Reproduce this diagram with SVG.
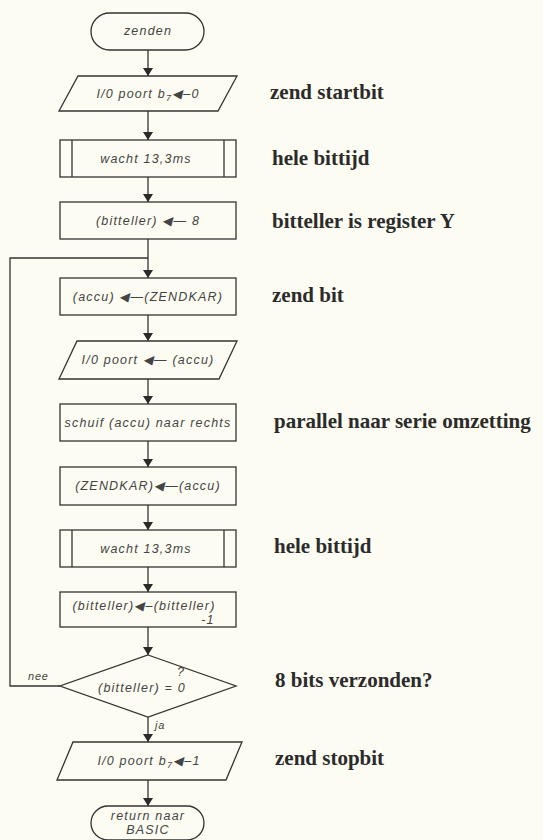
<svg xmlns="http://www.w3.org/2000/svg" width="543" height="840" viewBox="0 0 543 840">
<defs>
<marker id="ah" markerWidth="8" markerHeight="10" refX="8" refY="5" orient="auto" markerUnits="userSpaceOnUse">
<path d="M0,0 L8,5 L0,10 z" fill="#2a2a2a"/>
</marker>
<style>
.bg{fill:#fcfcf2}
.sh{fill:none;stroke:#333;stroke-width:1.3}
.ln{fill:none;stroke:#333;stroke-width:1.3}
.t{font-family:"Liberation Sans",Arial,sans-serif;font-style:italic;font-size:12.5px;letter-spacing:1.2px;fill:#444;text-anchor:middle}
.s{font-family:"Liberation Sans",Arial,sans-serif;font-style:italic;font-size:11px;letter-spacing:0.8px;fill:#444}
.r{font-family:"Liberation Serif","Times New Roman",serif;font-weight:bold;font-size:21px;fill:#2b2b2b}
</style>
</defs>
<rect class="bg" x="0" y="0" width="543" height="840"/>

<g id="connectors">
<line class="ln" x1="148" y1="50" x2="148" y2="76" marker-end="url(#ah)"/>
<line class="ln" x1="148" y1="111" x2="148" y2="140" marker-end="url(#ah)"/>
<line class="ln" x1="148" y1="177" x2="148" y2="202" marker-end="url(#ah)"/>
<line class="ln" x1="148" y1="239" x2="148" y2="278" marker-end="url(#ah)"/>
<polyline class="ln" points="60,686 10,686 10,258 148,258"/>
<line class="ln" x1="148" y1="315" x2="148" y2="341" marker-end="url(#ah)"/>
<line class="ln" x1="148" y1="379" x2="148" y2="404" marker-end="url(#ah)"/>
<line class="ln" x1="148" y1="441" x2="148" y2="467" marker-end="url(#ah)"/>
<line class="ln" x1="148" y1="505" x2="148" y2="530" marker-end="url(#ah)"/>
<line class="ln" x1="148" y1="567" x2="148" y2="592" marker-end="url(#ah)"/>
<line class="ln" x1="148" y1="627" x2="148" y2="655" marker-end="url(#ah)"/>
<line class="ln" x1="148" y1="717" x2="148" y2="742" marker-end="url(#ah)"/>
<line class="ln" x1="148" y1="780" x2="148" y2="806" marker-end="url(#ah)"/>
<text class="s" x="28" y="680">nee</text>
<text class="s" x="155" y="729">ja</text>
</g>

<g id="start">
<rect class="sh" x="91" y="13" width="113" height="37" rx="18.5"/>
<text class="t" x="148" y="35" font-size="11.5">zenden</text>
</g>

<g id="startbit">
<polygon class="sh" points="78,76 237,76 218,111 59,111"/>
<text class="t" x="148" y="98">I/0 poort b<tspan dy="3" font-size="9">7</tspan><tspan dy="-3">◀–0</tspan></text>
</g>

<g id="wacht1">
<rect class="sh" x="60" y="140" width="176" height="37"/>
<line class="sh" x1="72" y1="140" x2="72" y2="177"/>
<line class="sh" x1="224" y1="140" x2="224" y2="177"/>
<text class="t" x="146" y="163">wacht 13,3ms</text>
</g>

<g id="bitteller8">
<rect class="sh" x="60" y="202" width="176" height="37"/>
<text class="t" x="148" y="225">(bitteller) ◀— 8</text>
</g>

<g id="accuzendkar">
<rect class="sh" x="60" y="278" width="176" height="37"/>
<text class="t" x="148" y="301">(accu) ◀—(ZENDKAR)</text>
</g>

<g id="ioaccu">
<polygon class="sh" points="77,341 237,341 219,379 59,379"/>
<text class="t" x="148" y="364">I/0 poort ◀— (accu)</text>
</g>

<g id="schuif">
<rect class="sh" x="60" y="404" width="176" height="37"/>
<text class="t" x="148" y="427" letter-spacing="0.9">schuif (accu) naar rechts</text>
</g>

<g id="zendkaraccu">
<rect class="sh" x="60" y="467" width="176" height="38"/>
<text class="t" x="148" y="490">(ZENDKAR)◀—(accu)</text>
</g>

<g id="wacht2">
<rect class="sh" x="60" y="530" width="176" height="37"/>
<line class="sh" x1="72" y1="530" x2="72" y2="567"/>
<line class="sh" x1="224" y1="530" x2="224" y2="567"/>
<text class="t" x="146" y="553">wacht 13,3ms</text>
</g>

<g id="decrement">
<rect class="sh" x="60" y="592" width="176" height="35"/>
<text class="t" x="144" y="610">(bitteller)◀–(bitteller)</text>
<text class="t" x="208" y="624">-1</text>
</g>

<g id="decision">
<polygon class="sh" points="148,655 236,686 148,717 60,686"/>
<text class="t" x="142" y="692">(bitteller) = 0</text>
<text class="t" x="181" y="676" font-size="10">?</text>
</g>

<g id="stopbit">
<polygon class="sh" points="73,742 242,742 226,780 57,780"/>
<text class="t" x="149" y="765">I/0 poort b<tspan dy="3" font-size="9">7</tspan><tspan dy="-3">◀–1</tspan></text>
</g>

<g id="end">
<rect class="sh" x="91" y="806" width="113" height="34" rx="17"/>
<text class="t" x="148" y="820" font-size="11.5">return naar</text>
<text class="t" x="148" y="834" font-size="11.5">BASIC</text>
</g>

<g id="comments">
<text class="r" x="270" y="99">zend startbit</text>
<text class="r" x="272" y="165">hele bittijd</text>
<text class="r" x="272" y="228">bitteller is register Y</text>
<text class="r" x="272" y="302">zend bit</text>
<text class="r" x="274" y="428">parallel naar serie omzetting</text>
<text class="r" x="274" y="553">hele bittijd</text>
<text class="r" x="275" y="687">8 bits verzonden?</text>
<text class="r" x="275" y="765">zend stopbit</text>
</g>
</svg>
